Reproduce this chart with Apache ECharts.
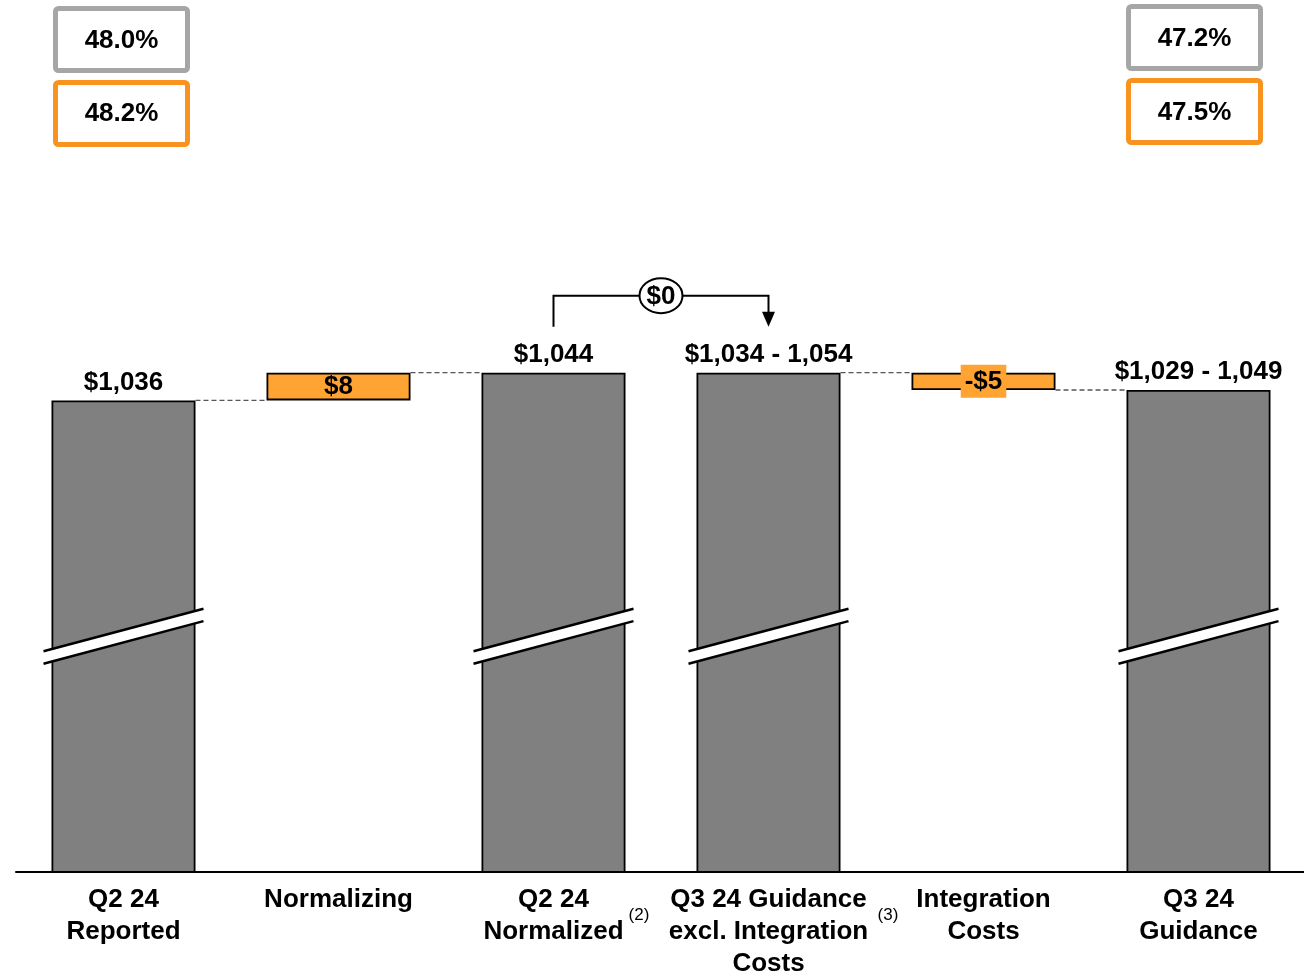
<!DOCTYPE html>
<html>
<head>
<meta charset="utf-8">
<script src="https://cdn.jsdelivr.net/npm/echarts@6/dist/echarts.min.js"></script>
<style>
html,body{margin:0;padding:0;background:#fff;}
#chart{width:1304px;height:973px;}
</style>
</head>
<body>
<div id="chart"></div>
<script>
// ---- data ----
const categories = ['Q2 24\nReported', 'Normalizing', 'Q2 24\nNormalized', 'Q3 24 Guidance\nexcl. Integration\nCosts', 'Integration\nCosts', 'Q3 24\nGuidance'];
const totalValues = [1036, null, 1044, 1044, null, 1039];
const totalLabels = ['$1,036', '', '$1,044', '$1,034 - 1,054', '', '$1,029 - 1,049'];
const deltaBase = [null, 1036, null, null, 1039, null];
const deltaValues = [null, 8, null, null, 5, null];
const deltaLabels = ['', '$8', '', '', '-$5', ''];
const connectorFrom = [0, 1, 3, 4];
const connectorLevels = [1036, 1044, 1044, 1039];
const breakCategories = [0, 2, 3, 5];
const breakValue = 968;
const bridgeFrom = 2;
const bridgeTo = 3;
const bridgeLevel = 1044;
const bridgeLabel = '$0';
const marginGray = ['48.0%', '47.2%'];
const marginOrange = ['48.2%', '47.5%'];
const footnotes = ['(2)', '(3)'];
const yMin = 900, yMax = 1100;

const FONT = "'Liberation Sans', Arial, Helvetica, sans-serif";
const GRAY = '#808080';
const ORANGE = '#FFA333';
const BAR_W = 144;

const chart = echarts.init(document.getElementById('chart'), null, {renderer: 'canvas'});

function txt(text, x, y, size, weight) {
  return {
    type: 'text', x: x, y: y, z: 100,
    style: {
      text: text, fill: '#000',
      font: (weight || 'bold') + ' ' + size + 'px ' + FONT,
      align: 'center', verticalAlign: 'middle',
      textAlign: 'center', textVerticalAlign: 'middle'
    }
  };
}
function box(x, y, color) {
  return {
    type: 'rect', z: 99,
    shape: {x: x, y: y, width: 132, height: 62, r: 3},
    style: {fill: '#fff', stroke: color, lineWidth: 5}
  };
}

const option = {
  backgroundColor: '#fff',
  animation: false,
  grid: {left: 16, width: 1290, top: 178.5, bottom: 101, containLabel: false, outerBoundsMode: 'none'},
  xAxis: {
    type: 'category',
    data: categories,
    axisLine: {show: true, lineStyle: {color: '#000', width: 2}},
    axisTick: {show: false},
    axisLabel: {
      interval: 0, margin: 12, color: '#000',
      fontFamily: FONT, fontWeight: 'bold', fontSize: 26, lineHeight: 32
    },
    z: 10
  },
  yAxis: {
    type: 'value', min: yMin, max: yMax, show: false,
    splitLine: {show: false}
  },
  series: [
    {
      name: 'total', type: 'bar', barWidth: BAR_W, barGap: '-100%',
      data: totalValues,
      itemStyle: {color: GRAY, borderColor: '#000', borderWidth: 1.8},
      label: {
        show: true, position: 'top', distance: 5, color: '#000',
        fontFamily: FONT, fontWeight: 'bold', fontSize: 26,
        formatter: p => totalLabels[p.dataIndex]
      },
      z: 2
    },
    {
      name: 'base', type: 'bar', stack: 'd', barWidth: BAR_W,
      data: deltaBase,
      itemStyle: {color: 'transparent'},
      silent: true, z: 1
    },
    {
      name: 'delta', type: 'bar', stack: 'd', barWidth: BAR_W,
      data: deltaValues.map((v, i) => ({
        value: v,
        label: i === 4 ? {backgroundColor: ORANGE, padding: [3, 4, 3, 4], lineHeight: 27} : {}
      })),
      itemStyle: {color: ORANGE, borderColor: '#000', borderWidth: 1.8},
      label: {
        show: true, position: 'inside', color: '#000',
        fontFamily: FONT, fontWeight: 'bold', fontSize: 26,
        formatter: p => deltaLabels[p.dataIndex]
      },
      z: 2
    },
    {
      name: 'connectors', type: 'custom', z: 3, silent: true,
      data: connectorFrom.map((c, i) => [c, connectorLevels[i]]),
      encode: {x: 0, y: 1},
      renderItem: function (params, api) {
        const i = api.value(0);
        const p = api.coord([i, api.value(1)]);
        const q = api.coord([i + 1, api.value(1)]);
        return {
          type: 'line',
          shape: {x1: p[0] + BAR_W / 2, y1: p[1], x2: q[0] - BAR_W / 2, y2: q[1]},
          style: {stroke: '#555', lineWidth: 1.3, lineDash: [5, 3]}
        };
      }
    },
    {
      name: 'breaks', type: 'custom', z: 5, silent: true,
      data: breakCategories.map(c => [c, breakValue]),
      encode: {x: 0, y: 1},
      renderItem: function (params, api) {
        const p = api.coord([api.value(0), api.value(1)]);
        const cx = p[0], cy = p[1];
        const hw = 80, s = 21.3, g = 6.2;
        return {
          type: 'group',
          children: [
            {type: 'polygon', shape: {points: [[cx - hw, cy + s - g], [cx + hw, cy - s - g], [cx + hw, cy - s + g], [cx - hw, cy + s + g]]}, style: {fill: '#fff'}},
            {type: 'line', shape: {x1: cx - hw, y1: cy + s - g, x2: cx + hw, y2: cy - s - g}, style: {stroke: '#000', lineWidth: 2.5}},
            {type: 'line', shape: {x1: cx - hw, y1: cy + s + g, x2: cx + hw, y2: cy - s + g}, style: {stroke: '#000', lineWidth: 2.5}}
          ]
        };
      }
    },
    {
      name: 'bridge', type: 'custom', z: 6, silent: true,
      data: [[bridgeFrom, bridgeLevel]],
      encode: {x: 0, y: 1},
      renderItem: function (params, api) {
        const p = api.coord([bridgeFrom, bridgeLevel]);
        const q = api.coord([bridgeTo, bridgeLevel]);
        const x1 = p[0], x2 = q[0], top = p[1];
        const yH = top - 77, yL = top - 46;
        const mx = (x1 + x2) / 2;
        return {
          type: 'group',
          children: [
            {type: 'polyline', shape: {points: [[x1, yL], [x1, yH], [x2, yH], [x2, yL - 14]]}, style: {stroke: '#000', lineWidth: 2, fill: null}},
            {type: 'polygon', shape: {points: [[x2, yL], [x2 - 6.5, yL - 15], [x2 + 6.5, yL - 15]]}, style: {fill: '#000'}},
            {type: 'ellipse', shape: {cx: mx, cy: yH, rx: 21.5, ry: 17.5}, style: {fill: '#fff', stroke: '#000', lineWidth: 2}},
            {type: 'text', x: mx, y: yH + 1, style: {text: bridgeLabel, fill: '#000', font: 'bold 26px ' + FONT, align: 'center', verticalAlign: 'middle', textAlign: 'center', textVerticalAlign: 'middle'}}
          ]
        };
      }
    }
  ],
  graphic: [
    box(55.5, 8.5, '#A6A6A6'),
    box(55.5, 82.5, '#F7931E'),
    box(1128.5, 6.5, '#A6A6A6'),
    box(1128.5, 80.5, '#F7931E'),
    txt(marginGray[0], 121.5, 40.5, 26),
    txt(marginOrange[0], 121.5, 113.5, 26),
    txt(marginGray[1], 1194.5, 38.5, 26),
    txt(marginOrange[1], 1194.5, 112.5, 26),
    txt(footnotes[0], 639, 915, 17, 'normal'),
    txt(footnotes[1], 888, 915, 17, 'normal')
  ]
};

chart.setOption(option);
</script>
</body>
</html>
